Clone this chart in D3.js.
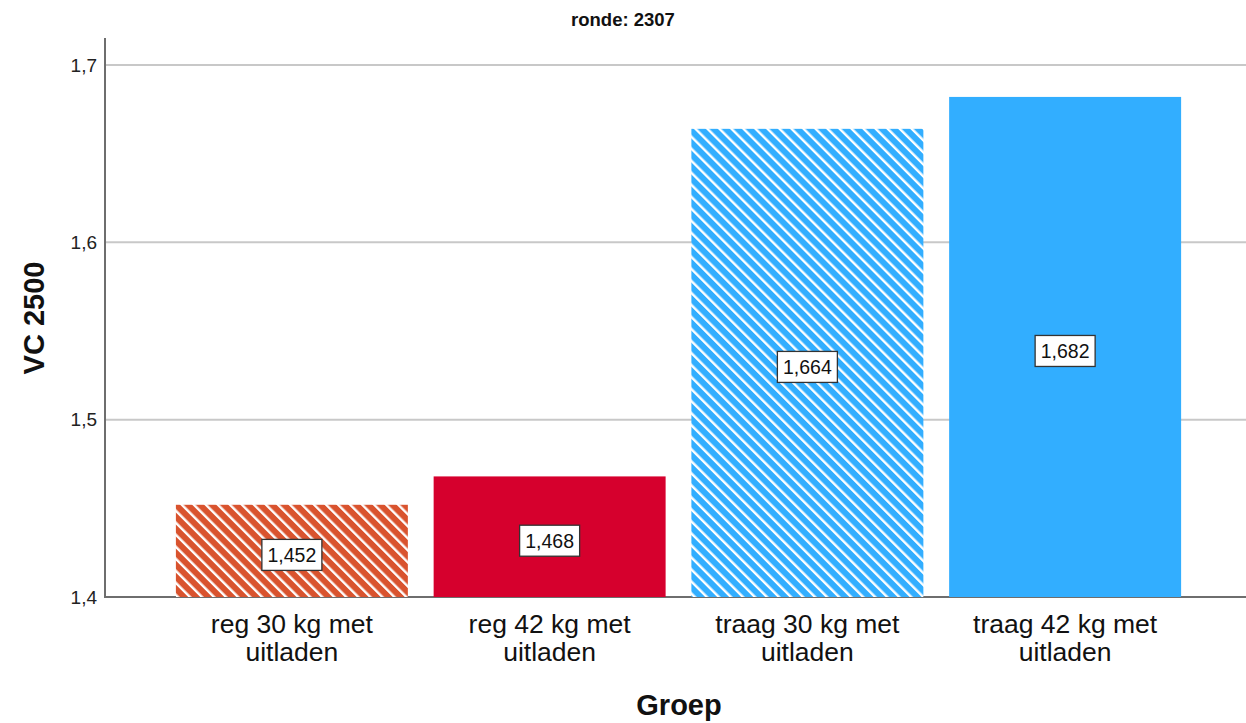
<!DOCTYPE html>
<html><head><meta charset="utf-8">
<script src="https://cdn.jsdelivr.net/npm/d3@7"></script>
<style>body{margin:0;background:#fff}svg{display:block;font-family:Arial,"Liberation Sans",sans-serif}</style>
</head><body><svg id="c" width="1246" height="723"></svg>
<script>
const categories = [["reg 30 kg met","uitladen"],["reg 42 kg met","uitladen"],["traag 30 kg met","uitladen"],["traag 42 kg met","uitladen"]];
const values = [1.452, 1.468, 1.664, 1.682];
const valueLabels = ["1,452","1,468","1,664","1,682"];
const colors = ["#d9532e","#d6002d","#32aeff","#32aeff"];
const hatched = [true,false,true,false];
const yTicks = [1.4,1.5,1.6,1.7];
const tickLabels = ["1,4","1,5","1,6","1,7"];

const svg = d3.select("#c");
const L=105, R=1246, T=38, B=597;
const y = d3.scaleLinear().domain([1.4, 1.7]).range([B, 65]);
const x = d3.scaleBand().domain(d3.range(values.length)).range([163, 1194]).paddingInner(0.1).paddingOuter(0.05);

const defs = svg.append("defs");
colors.forEach((c,i)=>{
  if(!hatched[i]) return;
  const p = defs.append("pattern").attr("id","h"+i).attr("patternUnits","userSpaceOnUse")
    .attr("width",8.5).attr("height",8.5).attr("patternTransform","rotate(-45)");
  p.append("rect").attr("width",8.5).attr("height",8.5).attr("fill",c);
  p.append("rect").attr("x",0).attr("y",0).attr("width",2.4).attr("height",8.5).attr("fill","#fff");
});

// gridlines
svg.append("g").selectAll("line").data(yTicks.slice(1)).join("line")
  .attr("x1",L).attr("x2",R).attr("y1",d=>y(d)).attr("y2",d=>y(d))
  .attr("stroke","#c8c8c8").attr("stroke-width",2);

// y axis
const yAxis = d3.axisLeft(y).tickValues(yTicks).tickFormat((d,i)=>tickLabels[i]).tickSize(0).tickPadding(8);
const gy = svg.append("g").attr("transform",`translate(${L},0)`).call(yAxis);
gy.select(".domain").remove();
gy.selectAll("text").attr("font-size",19).attr("fill","#222").attr("font-family","Arial, 'Liberation Sans', sans-serif");
svg.append("line").attr("x1",L).attr("x2",L).attr("y1",T).attr("y2",B+1).attr("stroke","#6e6e6e").attr("stroke-width",2);
svg.append("line").attr("x1",L).attr("x2",R).attr("y1",B).attr("y2",B).attr("stroke","#6e6e6e").attr("stroke-width",2);

// bars
svg.append("g").selectAll("rect").data(values).join("rect")
  .attr("x",(d,i)=>x(i)).attr("width",x.bandwidth())
  .attr("y",d=>y(d)).attr("height",d=>y(1.4)-y(d))
  .attr("fill",(d,i)=>hatched[i]?`url(#h${i})`:colors[i]);

// value labels
const lg = svg.append("g").selectAll("g").data(values).join("g")
  .attr("transform",(d,i)=>`translate(${x(i)+x.bandwidth()/2},${(y(d)+y(1.4))/2+4})`);
lg.append("rect").attr("x",-30).attr("y",-15.5).attr("width",60).attr("height",31)
  .attr("fill","#fff").attr("stroke","#333").attr("stroke-width",1.3);
lg.append("text").attr("text-anchor","middle").attr("dy","0.36em").attr("font-size",19.5).attr("fill","#111")
  .text((d,i)=>valueLabels[i]);

// category labels
const cg = svg.append("g").selectAll("text").data(categories).join("text")
  .attr("text-anchor","middle").attr("font-size",26.5).attr("fill","#111")
  .attr("x",(d,i)=>x(i)+x.bandwidth()/2).attr("y",633);
cg.selectAll("tspan").data(d=>d).join("tspan")
  .attr("x",function(){return this.parentNode.getAttribute("x");})
  .attr("dy",(d,j)=>j?28:0).text(d=>d);

// titles
svg.append("text").attr("x",623).attr("y",26).attr("text-anchor","middle").attr("font-size",18.5).attr("font-weight","bold").attr("fill","#111").text("ronde: 2307");
svg.append("text").attr("x",679).attr("y",715).attr("text-anchor","middle").attr("font-size",29).attr("font-weight","bold").attr("fill","#111").text("Groep");
svg.append("text").attr("transform","translate(44,318) rotate(-90)").attr("text-anchor","middle").attr("font-size",29).attr("font-weight","bold").attr("fill","#111").text("VC 2500");
</script></body></html>
